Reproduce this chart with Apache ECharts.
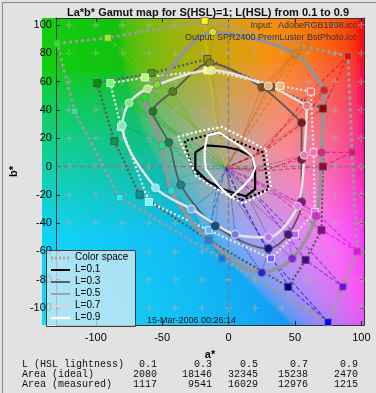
<!DOCTYPE html>
<html>
<head>
<meta charset="utf-8">
<script src="https://cdn.jsdelivr.net/npm/echarts@6/dist/echarts.min.js"></script>
<style>
  html, body { margin: 0; padding: 0; background: #e2e2e2; }
  #main { width: 376px; height: 393px; }
</style>
</head>
<body>
<div id="main"></div>
<script>
// hue order: R, O, Y, Ch, G, Sp, C, Az, B, V, M, Ro
var hues = [0, 30, 60, 90, 120, 150, 180, 210, 240, 270, 300, 330];
var levels = [0.1, 0.3, 0.5, 0.7, 0.9];
var neutral = [-2, -1];

// color space outline = ideal L=0.5 points (a*, b*)
var gamut = [[90, 78], [57, 85], [-18, 103], [-91, 91], [-129, 87], [-116, 39],
             [-82, -22], [-5, -65], [75, -110], [86, -85], [97, -60], [93, 10]];

// ideal (dotted) hexagons
var ideal01 = [[26, 10], [8, 17], [-9, 24], [-21, 21], [-33, 18], [-30, 7],
               [-26, -4], [-9, -14], [9, -24], [20, -20], [30, -16], [28, -3]];
var ideal03 = [[71, 41], [32, 56], [-16, 76], [-58, 66], [-99, 59], [-86, 18],
               [-67, -20], [-15, -52], [45, -85], [58, -66], [70, -45], [71, 0]];
var ideal07 = [[62, 53], [39, 57], [-16, 68], [-63, 63], [-89, 59], [-81, 28],
               [-60, -25], [-15, -45], [32, -65], [50, -48], [65, -32], [64, 10]];
var ideal09 = [[28, 12], [12, 20], [-5, 28], [-22, 25], [-38, 21], [-31, 7],
               [-24, -7], [-7, -17], [11, -26], [22, -21], [32, -15], [30, -2]];

// measured (solid) curves
var meas01 = [[18, 7], [7, 12], [-3, 14], [-17, 15], [-25, 10], [-25, -2],
              [-16, -10], [-7, -15], [2, -18], [13, -21], [20, -16], [20, -4]];
var meas03 = [[55, 31], [25, 56], [-14, 73], [-42, 53], [-57, 39], [-45, 17],
              [-36, -13], [-10, -42], [30, -58], [45, -48], [55, -25], [55, 5]];
var meas05 = [[72, 54], [50, 80], [-12, 95], [-54, 58], [-63, 49], [-50, 15],
              [-43, -17], [-15, -52], [25, -75], [48, -65], [66, -35], [70, 10]];
var meas07 = [[59, 43], [30, 57], [-13, 68], [-61, 55], [-75, 45], [-80, 29],
              [-55, -15], [-28, -30], [5, -48], [30, -50], [52, -28], [57, 8]];
var meas09 = [[18, 7], [8, 15], [-7, 24], [-16, 22], [-18, 12], [-18, 5],
              [-17, -2], [-7, -14], [2, -22], [11, -14], [17, -8], [20, -1]];

var tickA = [-100, -50, 0, 50, 100];
var tickB = [-100, -80, -60, -40, -20, 0, 20, 40, 60, 80, 100];
var plusA = [-120, -100, -80, -60, -40, -20, 0, 20, 40, 60, 80, 100];
var plusB = [-100, -80, -60, -40, -20, 0, 20, 40, 60, 80, 100];

var tableRows = [
  ['L (HSL lightness)', '0.1', '0.3', '0.5', '0.7', '0.9'],
  ['Area (ideal)', '2080', '18146', '32345', '15238', '2470'],
  ['Area (measured)', '1117', '9541', '16029', '12976', '1215']
];

var X_MIN = -130, X_MAX = 102, Y_MIN = -112, Y_MAX = 105;
var G_LEFT = 42, G_TOP = 18, G_W = 322, G_H = 307;

function hsl(h, s, l) {
  var c = (1 - Math.abs(2 * l - 1)) * s, hp = h / 60, x = c * (1 - Math.abs(hp % 2 - 1));
  var r = 0, g = 0, b = 0;
  if (hp < 1) { r = c; g = x; } else if (hp < 2) { r = x; g = c; } else if (hp < 3) { g = c; b = x; }
  else if (hp < 4) { g = x; b = c; } else if (hp < 5) { r = x; b = c; } else { r = c; b = x; }
  var m = l - c / 2;
  return 'rgb(' + Math.round((r + m) * 255) + ',' + Math.round((g + m) * 255) + ',' + Math.round((b + m) * 255) + ')';
}

function labToRgb(L, a, b) {
  var fy = (L + 16) / 116, fx = fy + a / 500, fz = fy - b / 200;
  function f(t) { return t > 0.206897 ? t * t * t : (t - 16 / 116) / 7.787; }
  var X = 0.95047 * f(fx), Y = f(fy), Z = 1.08883 * f(fz);
  var r = 3.2406 * X - 1.5372 * Y - 0.4986 * Z;
  var g = -0.9689 * X + 1.8758 * Y + 0.0415 * Z;
  var bl = 0.0557 * X - 0.2040 * Y + 1.0570 * Z;
  function gam(c) { c = Math.max(0, Math.min(1, c)); return Math.round(255 * (c <= 0.0031308 ? 12.92 * c : 1.055 * Math.pow(c, 1 / 2.4) - 0.055)); }
  return [gam(r), gam(g), gam(bl)];
}

// background: the a*b* plane
var bg = document.createElement('canvas');
bg.width = G_W; bg.height = G_H;
var ctx = bg.getContext('2d');
var img = ctx.createImageData(G_W, G_H);
for (var j = 0; j < G_H; j++) {
  for (var i = 0; i < G_W; i++) {
    var a = X_MIN + (i + 0.5) / G_W * (X_MAX - X_MIN);
    var b = Y_MAX - (j + 0.5) / G_H * (Y_MAX - Y_MIN);
    var c = labToRgb(70, a, b);
    var k = (j * G_W + i) * 4;
    img.data[k] = Math.round(c[0] * 0.9 + 18); img.data[k + 1] = Math.round(c[1] * 0.9 + 14);
    img.data[k + 2] = Math.round(c[2] * 0.9 + 14); img.data[k + 3] = 255;
  }
}
ctx.putImageData(img, 0, 0);

function closed(pts) { return pts.concat([pts[0]]); }

function polySeries(name, pts, line, sym, L, symSize, border) {
  var data = closed(pts).map(function (p, i) {
    var it = { value: p };
    if (i < pts.length && sym !== 'none') {
      it.itemStyle = { color: hsl(hues[i], sym === 'rect' ? 1 : 0.75, L), borderColor: border, borderWidth: 1 };
    } else {
      it.symbol = 'none';
    }
    return it;
  });
  return {
    name: name, type: 'line', data: data, smooth: sym === 'circle' ? 0.3 : false,
    symbol: sym, symbolSize: symSize, showSymbol: sym !== 'none',
    lineStyle: line, z: 5, animation: false, silent: true
  };
}

var series = [];

// + grid marks and a*=0 / b*=0 lines
var plusData = [];
plusA.forEach(function (a) { plusB.forEach(function (b) { plusData.push([a, b]); }); });
series.push({
  type: 'scatter', data: plusData, symbol: 'path://M4,0h2v10h-2z M0,4h10v2h-10z', symbolSize: 7,
  itemStyle: { color: 'rgba(175,175,175,0.7)' }, z: 2, silent: true, animation: false,
  markLine: {
    silent: true, symbol: 'none', label: { show: false },
    lineStyle: { type: 'dashed', color: 'rgba(120,120,120,0.8)', width: 1.3 },
    data: [{ xAxis: 0 }, { yAxis: 0 }]
  }
});

// hue lines through the ideal and measured points
hues.forEach(function (h, k) {
  series.push({
    type: 'line', symbol: 'none', z: 3, silent: true, animation: false,
    data: [neutral, ideal01[k], ideal03[k], gamut[k], ideal07[k], ideal09[k], neutral],
    lineStyle: { type: 'dashed', width: 1.1, color: hsl(h, 1, 0.42), opacity: 0.6 }
  });
  series.push({
    type: 'line', symbol: 'none', z: 3, silent: true, animation: false,
    data: [neutral, meas01[k], meas03[k], meas05[k], meas07[k], meas09[k], neutral],
    lineStyle: { type: 'dotted', width: 1.1, color: hsl(h, 1, 0.3), opacity: 0.5 }
  });
});

series.push(polySeries('Color space', gamut, { type: 'dotted', width: 3, color: '#9c9c9c' }, 'rect', 0.5, 7, '#808080'));
series.push(polySeries('i01', ideal01, { type: 'dotted', width: 2.2, color: '#000' }, 'none', 0.1, 0, null));
series.push(polySeries('i03', ideal03, { type: 'dotted', width: 2.2, color: '#5a5a5a' }, 'rect', 0.3, 7, '#505050'));
series.push(polySeries('i07', ideal07, { type: 'dotted', width: 2.2, color: '#e6e6e6' }, 'rect', 0.7, 7, '#f0f0f0'));
series.push(polySeries('i09', ideal09, { type: 'dotted', width: 2.2, color: '#ffffff' }, 'none', 0.9, 0, null));

series.push(polySeries('L=0.5', meas05, { width: 3.5, color: '#959595' }, 'circle', 0.5, 8, '#808080'));
series.push(polySeries('L=0.3', meas03, { width: 1.8, color: '#5a5a5a' }, 'circle', 0.3, 8, '#505050'));
series.push(polySeries('L=0.7', meas07, { width: 2.5, color: '#e4e4e4' }, 'circle', 0.7, 8, '#e0e0e0'));
series.push(polySeries('L=0.1', meas01, { width: 2.2, color: '#000' }, 'none', 0.1, 0, null));
series.push(polySeries('L=0.9', meas09, { width: 2.2, color: '#fff' }, 'none', 0.9, 0, null));

// legend, notes and the area table
var graphics = [
  { type: 'image', left: G_LEFT, top: G_TOP, z: -10, silent: true, style: { image: bg, width: G_W, height: G_H } },
  { type: 'rect', left: 0, top: 0, z: -20, silent: true, shape: { width: 375, height: 392 },
    style: { fill: 'none', stroke: '#8a8a8a', lineWidth: 1 } },
  { type: 'text', right: 19, top: 21, z: 50, style: { text: 'Input:  AdobeRGB1998.icc', font: '9px Arial', fill: '#333' } },
  { type: 'text', right: 19, top: 33, z: 50, style: { text: 'Output: SPR2400 PremLuster BstPhoto.icc', font: '9px Arial', fill: '#333' } },
  { type: 'text', left: 147, top: 316, z: 50, style: { text: '15-Mar-2006 00:26:14', font: '9px Arial', fill: '#111' } },
  { type: 'rect', left: 46, top: 250, z: 60, silent: true, shape: { width: 89, height: 76 },
    style: { fill: 'rgba(222,234,246,0.75)', stroke: '#404040', lineWidth: 1 } }
];
var legItems = [
  ['Color space', '#a8a8a8', 'dotted', 3],
  ['L=0.1', '#000000', 'solid', 2],
  ['L=0.3', '#606060', 'solid', 2],
  ['L=0.5', '#a0a0a0', 'solid', 2],
  ['L=0.7', '#d6d6d6', 'solid', 2],
  ['L=0.9', '#ffffff', 'solid', 2.5]
];
legItems.forEach(function (it, r) {
  var y = 258 + r * 12;
  graphics.push({ type: 'line', z: 61, silent: true, shape: { x1: 51, y1: y, x2: 70, y2: y },
    style: { stroke: it[1], lineWidth: it[3], lineDash: it[2] === 'dotted' ? [2, 2] : null } });
  graphics.push({ type: 'text', left: 75, top: y - 6, z: 61, style: { text: it[0], font: '10px Arial', fill: '#000' } });
});
var colRight = [157, 212, 258, 308, 358];
tableRows.forEach(function (row, r) {
  var y = 359 + r * 10;
  graphics.push({ type: 'text', left: 22, top: y, z: 50, style: { text: row[0], font: '10px "Liberation Mono", monospace', fill: '#111' } });
  for (var c = 1; c < row.length; c++) {
    graphics.push({ type: 'text', z: 50, x: colRight[c - 1], y: y,
      style: { text: row[c], font: '10px "Liberation Mono", monospace', fill: '#111', align: 'right', verticalAlign: 'top' } });
  }
});

function axis(dim, pos, ticks, isMain, extra) {
  var o = {
    type: 'value', position: pos,
    min: dim === 'x' ? X_MIN : Y_MIN, max: dim === 'x' ? X_MAX : Y_MAX,
    axisLine: { show: true, onZero: false, lineStyle: { color: '#333', width: 1 } },
    axisTick: { show: true, inside: true, length: 4, customValues: ticks, lineStyle: { color: '#222' } },
    axisLabel: { show: isMain, customValues: ticks, color: '#000', fontSize: 11, fontFamily: 'Arial', margin: dim === 'x' ? 7 : 4 },
    splitLine: { show: false }
  };
  for (var k in extra) o[k] = extra[k];
  return o;
}

var option = {
  backgroundColor: '#e2e2e2',
  animation: false,
  title: {
    text: 'La*b* Gamut map for S(HSL)=1; L(HSL) from 0.1 to 0.9',
    left: 203, top: 2, textAlign: 'center',
    textStyle: { fontSize: 11, fontWeight: 'bold', fontFamily: 'Arial', color: '#111' }
  },
  grid: { left: G_LEFT, top: G_TOP, width: G_W, height: G_H },
  xAxis: [
    axis('x', 'bottom', tickA, true, { name: 'a*', nameLocation: 'middle', nameGap: 24,
      nameTextStyle: { fontWeight: 'bold', fontSize: 11, fontFamily: 'Arial', color: '#000' } }),
    axis('x', 'top', tickA, false, {})
  ],
  yAxis: [
    axis('y', 'left', tickB, true, { name: 'b*', nameLocation: 'middle', nameGap: 28, nameRotate: 90,
      nameTextStyle: { fontWeight: 'bold', fontSize: 11, fontFamily: 'Arial', color: '#000' } }),
    axis('y', 'right', tickB, false, {})
  ],
  graphic: graphics,
  series: series
};

var chart = echarts.init(document.getElementById('main'));
chart.setOption(option);
</script>
</body>
</html>
